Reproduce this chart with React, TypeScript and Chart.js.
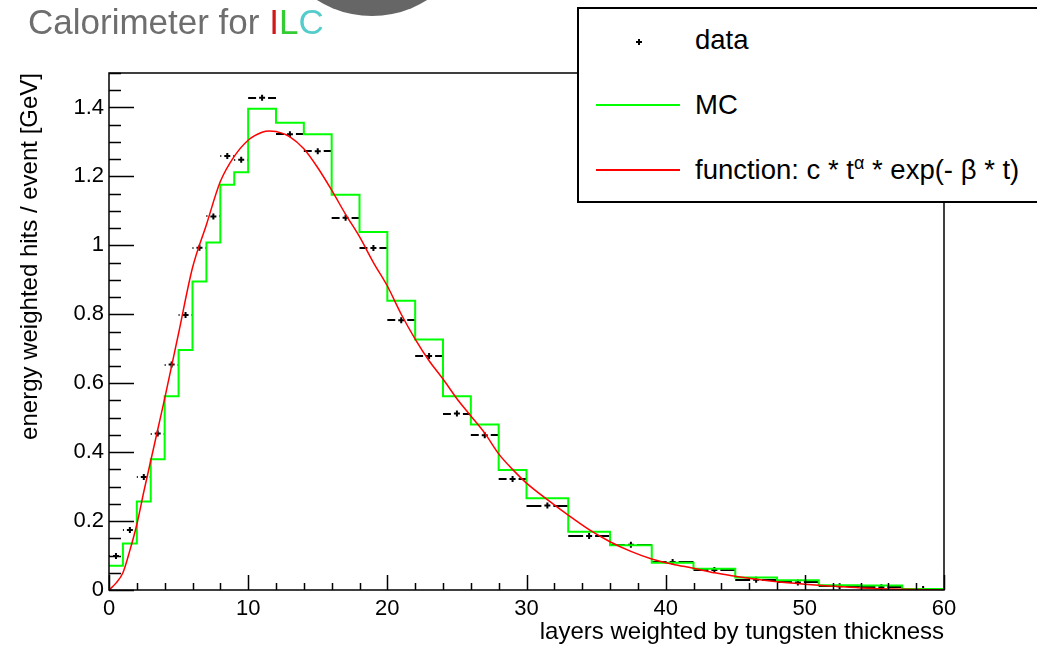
import React, { useEffect, useRef } from "react";
import { Chart, registerables } from "chart.js";

Chart.register(...registerables);

// ---- data ----
const binEdges = [0, 1, 2, 3, 4, 5, 6, 7, 8, 9, 10, 12, 14, 16, 18, 20, 22, 24, 26, 28, 30, 33, 36, 39, 42, 45, 48, 51, 54, 57, 60];
const mcValues = [0.070, 0.135, 0.257, 0.379, 0.562, 0.696, 0.895, 1.008, 1.176, 1.212, 1.396, 1.356, 1.322, 1.147, 1.039, 0.839, 0.727, 0.562, 0.480, 0.348, 0.266, 0.169, 0.130, 0.079, 0.062, 0.036, 0.028, 0.0135, 0.013, 0.003];
const dataValues = [0.099, 0.174, 0.328, 0.454, 0.654, 0.798, 0.993, 1.084, 1.259, 1.248, 1.428, 1.322, 1.273, 1.080, 0.992, 0.783, 0.679, 0.512, 0.449, 0.322, 0.245, 0.157, 0.131, 0.081, 0.058, 0.030, 0.022, 0.011, 0.008, 0.003];
const funcX = [0, 0.5, 1, 1.5, 2, 2.5, 3, 3.5, 4, 5, 6, 7, 8, 9, 10, 11, 11.5, 12, 13, 14, 15, 16, 17, 18, 19, 20, 21, 22, 23, 24, 25, 26, 27, 28, 29, 30, 31.5, 33, 34.5, 36, 37.5, 39, 40.5, 42, 43.5, 45, 46.5, 48, 50, 52, 54, 57, 60];
const funcY = [0, 0.02, 0.05, 0.115, 0.19, 0.285, 0.375, 0.465, 0.555, 0.745, 0.935, 1.06, 1.185, 1.258, 1.305, 1.328, 1.332, 1.33, 1.315, 1.28, 1.225, 1.16, 1.09, 1.025, 0.95, 0.882, 0.80, 0.728, 0.665, 0.612, 0.555, 0.505, 0.455, 0.395, 0.35, 0.31, 0.262, 0.217, 0.175, 0.14, 0.112, 0.09, 0.075, 0.063, 0.05, 0.04, 0.031, 0.024, 0.017, 0.011, 0.006, 0.002, 0];
const xTickValues = [0, 10, 20, 30, 40, 50, 60];
const xMinorStep = 2;
const yTickValues = [0, 0.2, 0.4, 0.6, 0.8, 1, 1.2, 1.4];
const yTickLabels = ["0", "0.2", "0.4", "0.6", "0.8", "1", "1.2", "1.4"];
const yMinorStep = 0.05;

const FONT = '"Liberation Sans", Arial, Helvetica, sans-serif';

export default function App() {
  const canvasRef = useRef<HTMLCanvasElement | null>(null);

  useEffect(() => {
    const canvas = canvasRef.current;
    if (!canvas) return;

    const mcLine: { x: number; y: number }[] = [];
    mcValues.forEach((v, i) => {
      mcLine.push({ x: binEdges[i], y: v });
      mcLine.push({ x: binEdges[i + 1], y: v });
    });
    const centers = dataValues.map((_, i) => (binEdges[i] + binEdges[i + 1]) / 2);
    const dataPts = dataValues.map((v, i) => ({ x: centers[i], y: v }));
    const funcPts = funcX.map((x, i) => ({ x, y: funcY[i] }));

    const errorBars = {
      id: "errorBars",
      beforeDatasetsDraw(chart: any) {
        const { ctx, scales } = chart;
        const xs = scales.x, ys = scales.y;
        ctx.save();
        ctx.strokeStyle = "#000";
        ctx.lineWidth = 2;
        const gap = 6;
        dataValues.forEach((v, i) => {
          const xl = xs.getPixelForValue(binEdges[i]);
          const xr = xs.getPixelForValue(binEdges[i + 1]);
          const xc = xs.getPixelForValue(centers[i]);
          const py = Math.round(ys.getPixelForValue(v));
          ctx.beginPath();
          if (xc - gap > xl) { ctx.moveTo(xl, py); ctx.lineTo(xc - gap, py); }
          if (xr > xc + gap) { ctx.moveTo(xc + gap, py); ctx.lineTo(xr, py); }
          ctx.stroke();
        });
        ctx.restore();
      },
    };

    const frame = {
      id: "frameTicks",
      afterDraw(chart: any) {
        const { ctx, chartArea, scales } = chart;
        const { left, right, top, bottom } = chartArea;
        const xs = scales.x, ys = scales.y;
        ctx.save();
        ctx.strokeStyle = "#000";
        ctx.lineWidth = 1.5;
        ctx.strokeRect(left, top, right - left, bottom - top);
        ctx.beginPath();
        for (let v = xs.min; v <= xs.max + 1e-9; v += xMinorStep) {
          const px = Math.round(xs.getPixelForValue(v)) + 0.5;
          const major = xTickValues.some((t) => Math.abs(t - v) < 1e-9);
          ctx.moveTo(px, bottom);
          ctx.lineTo(px, bottom - (major ? 15 : 7));
        }
        for (let k = 0; k * yMinorStep <= ys.max + 1e-9; k++) {
          const v = k * yMinorStep;
          const py = Math.round(ys.getPixelForValue(v)) + 0.5;
          const major = yTickValues.some((t) => Math.abs(t - v) < 1e-9);
          ctx.moveTo(left, py);
          ctx.lineTo(left + (major ? 25 : 12), py);
        }
        ctx.stroke();
        ctx.restore();
      },
    };

    const chart = new Chart(canvas, {
      type: "line",
      data: {
        datasets: [
          {
            label: "function",
            data: funcPts,
            borderColor: "#ff0000",
            borderWidth: 1.5,
            pointRadius: 0,
            cubicInterpolationMode: "monotone",
            fill: false,
            order: 0,
          } as any,
          {
            label: "MC",
            data: mcLine,
            borderColor: "#00ff00",
            borderWidth: 2,
            pointRadius: 0,
            tension: 0,
            fill: false,
            order: 1,
          },
          {
            label: "data",
            data: dataPts,
            showLine: false,
            pointStyle: "cross",
            pointRadius: 3,
            borderColor: "#000",
            backgroundColor: "#000",
            borderWidth: 2,
            order: 2,
          } as any,
        ],
      },
      options: {
        responsive: false,
        animation: false,
        devicePixelRatio: 1,
        parsing: false,
        normalized: true,
        layout: { padding: { left: 0, top: 73, right: 93, bottom: 0 } },
        plugins: { legend: { display: false }, tooltip: { enabled: false } },
        scales: {
          x: {
            type: "linear",
            min: 0,
            max: 60,
            grid: { display: false, drawTicks: false },
            border: { display: false },
            afterBuildTicks: (s: any) => { s.ticks = xTickValues.map((v) => ({ value: v })); },
            afterFit: (s: any) => { s.height = 57; },
            ticks: { padding: 6, color: "#000", font: { size: 22, family: FONT }, maxRotation: 0, autoSkip: false },
            title: {
              display: true,
              text: "layers weighted by tungsten thickness",
              align: "end",
              color: "#000",
              font: { size: 24, family: FONT },
              padding: { top: 0, bottom: 0 },
            },
          },
          y: {
            type: "linear",
            min: 0,
            max: 1.5,
            grid: { display: false, drawTicks: false },
            border: { display: false },
            afterBuildTicks: (s: any) => { s.ticks = yTickValues.map((v) => ({ value: v })); },
            afterFit: (s: any) => { s.width = 109; },
            ticks: {
              padding: 5,
              color: "#000",
              font: { size: 22, family: FONT },
              autoSkip: false,
              callback: (v: number) => {
                const i = yTickValues.findIndex((t) => Math.abs(t - v) < 1e-9);
                return i >= 0 ? yTickLabels[i] : "";
              },
            },
            title: {
              display: true,
              text: "energy weighted hits / event [GeV]",
              align: "end",
              color: "#000",
              font: { size: 24, family: FONT },
              padding: { top: 16, bottom: 0 },
            },
          },
        },
      } as any,
      plugins: [errorBars, frame],
    });
    return () => chart.destroy();
  }, []);

  return (
    <div style={{ position: "fixed", left: 0, top: 0, width: 1037, height: 647, overflow: "hidden", background: "#fff", fontFamily: FONT }}>
      <canvas ref={canvasRef} width={1037} height={647} style={{ position: "absolute", left: 0, top: 0 }} />
      <div style={{ position: "absolute", left: 269, top: -190, width: 206, height: 206, borderRadius: "50%", background: "#666" }} />
      <div style={{ position: "absolute", left: 28, top: 1, fontSize: 35, lineHeight: "42px", color: "#6e6e6e", whiteSpace: "nowrap" }}>
        Calorimeter for <span style={{ color: "#d01818" }}>I</span>
        <span style={{ color: "#33cc33" }}>L</span>
        <span style={{ color: "#55cccc" }}>C</span>
      </div>
      <div style={{ position: "absolute", left: 577, top: 7, width: 480, height: 192, border: "2px solid #000", background: "#fff", boxSizing: "content-box" }}>
        <div style={{ position: "absolute", left: 57, top: 32, width: 6, height: 2, background: "#000" }} />
        <div style={{ position: "absolute", left: 59, top: 30, width: 2, height: 6, background: "#000" }} />
        <div style={{ position: "absolute", left: 116, top: 14, fontSize: 27.5, lineHeight: "34px", color: "#000", whiteSpace: "nowrap" }}>data</div>
        <div style={{ position: "absolute", left: 17, top: 95, width: 84, height: 2, background: "#00ff00" }} />
        <div style={{ position: "absolute", left: 116, top: 79, fontSize: 27.5, lineHeight: "34px", color: "#000", whiteSpace: "nowrap" }}>MC</div>
        <div style={{ position: "absolute", left: 17, top: 160, width: 84, height: 2, background: "#ff0000" }} />
        <div style={{ position: "absolute", left: 116, top: 144, fontSize: 27.5, lineHeight: "34px", color: "#000", whiteSpace: "nowrap" }}>
          function: c * t<sup style={{ fontSize: 18, verticalAlign: "10px", lineHeight: 0 }}>α</sup> * exp(- β * t)
        </div>
      </div>
    </div>
  );
}
